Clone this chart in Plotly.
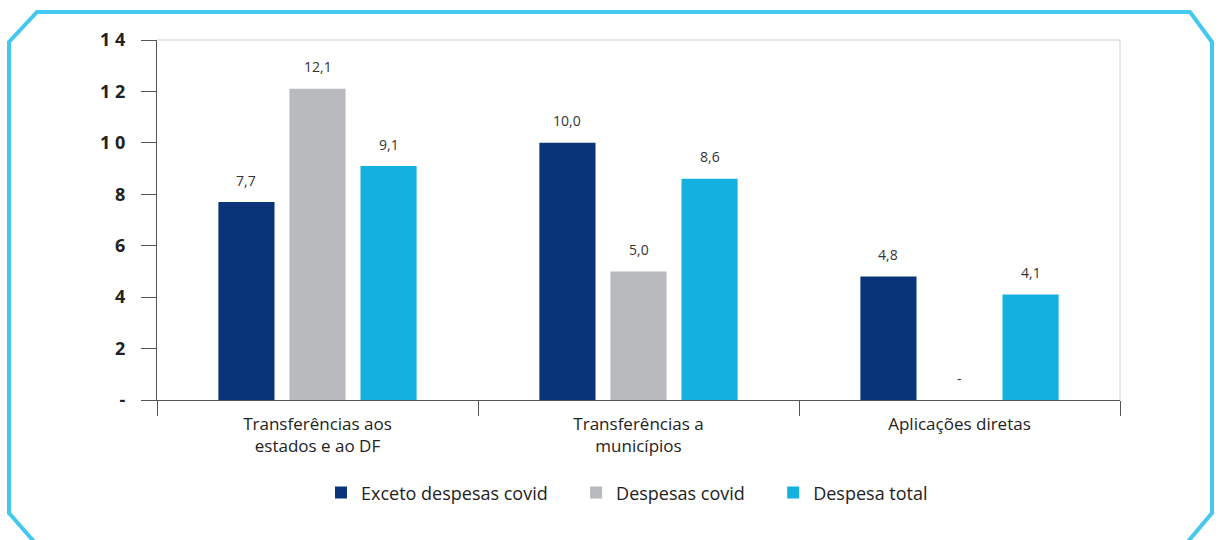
import plotly.graph_objects as go

categories = ["Transferências aos<br>estados e ao DF", "Transferências a<br>municípios", "Aplicações diretas"]
series_names = ["Exceto despesas covid", "Despesas covid", "Despesa total"]
exceto = [7.7, 10.0, 4.8]
covid = [12.1, 5.0, 0.0]
total = [9.1, 8.6, 4.1]
colors = ["#0A347A", "#B9BABE", "#14B1E0"]
ytick_vals = [0, 2, 4, 6, 8, 10, 12, 14]
ytick_text = ["-", "2", "4", "6", "8", "1 0", "1 2", "1 4"]

def fmt(v):
    return "-" if v == 0 else f"{v:.1f}".replace(".", ",")

fig = go.Figure()
all_series = [exceto, covid, total]
pad = "\u00a0" * 5
for name, vals, col in zip(series_names, all_series, colors):
    fig.add_trace(go.Bar(x=categories, y=vals, name=name + pad, marker_color=col,
                         marker_line_width=0))

# value labels
L, R, T, B = 157, 99, 40, 140
W, H = 1219, 540
plot_w = W - L - R
bargap, bargroupgap = 0.336, 0.21
cat_w = plot_w / len(categories)
slot = cat_w * (1 - bargap) / 3
for i, vals in enumerate(all_series):
    for c, v in zip(categories, vals):
        fig.add_annotation(x=c, y=v, text=fmt(v), showarrow=False,
                           xshift=(i - 1) * slot, yshift=22, yanchor="middle",
                           font=dict(size=14, color="#333333"))

# border frame (pixel -> paper)
def px(x):
    return (x - L) / plot_w
def py(y):
    return (H - B - y) / (H - T - B)

pts = [(37, 545), (9, 513), (9, 42), (37, 12), (1190, 12), (1212, 42), (1212, 513), (1185, 545)]
path = "M " + " L ".join(f"{px(x)},{py(y)}" for x, y in pts)
fig.add_shape(type="path", path=path, xref="paper", yref="paper",
              line=dict(color="#45C8F0", width=4), layer="below")
# top and right light frame
fig.add_shape(type="line", xref="paper", yref="paper", x0=0, x1=1, y0=1, y1=1,
              line=dict(color="#D0D0D0", width=1))
fig.add_shape(type="line", xref="paper", yref="paper", x0=1, x1=1, y0=0, y1=1,
              line=dict(color="#D0D0D0", width=1))

fig.update_layout(
    width=W, height=H,
    margin=dict(l=L, r=R, t=T, b=B),
    paper_bgcolor="white", plot_bgcolor="white",
    barmode="group", bargap=bargap, bargroupgap=bargroupgap,
    font=dict(family="Open Sans", color="#222222"),
    showlegend=True,
    legend=dict(orientation="h", x=0.5, xanchor="center", y=-0.258, yanchor="middle",
                font=dict(size=18, color="#222222"), itemwidth=30,
                traceorder="normal"),
    xaxis=dict(type="category", range=[-0.5, 2.5], showline=True, linecolor="#555555",
               linewidth=1.2, ticks="outside", tickson="boundaries", ticklen=15,
               tickcolor="#555555", tickfont=dict(size=17, color="#222222"),
               ticklabelstandoff=8,
               showgrid=False, zeroline=False),
    yaxis=dict(range=[0, 14], tickvals=ytick_vals, ticktext=ytick_text,
               showline=True, linecolor="#555555", linewidth=1.2, ticks="outside",
               ticklen=15, tickcolor="#555555", showgrid=False, zeroline=False,
               ticklabelstandoff=12,
               tickfont=dict(size=18, color="#222222", family="Open Sans", weight="bold")),
)

fig.write_html("out.html")
